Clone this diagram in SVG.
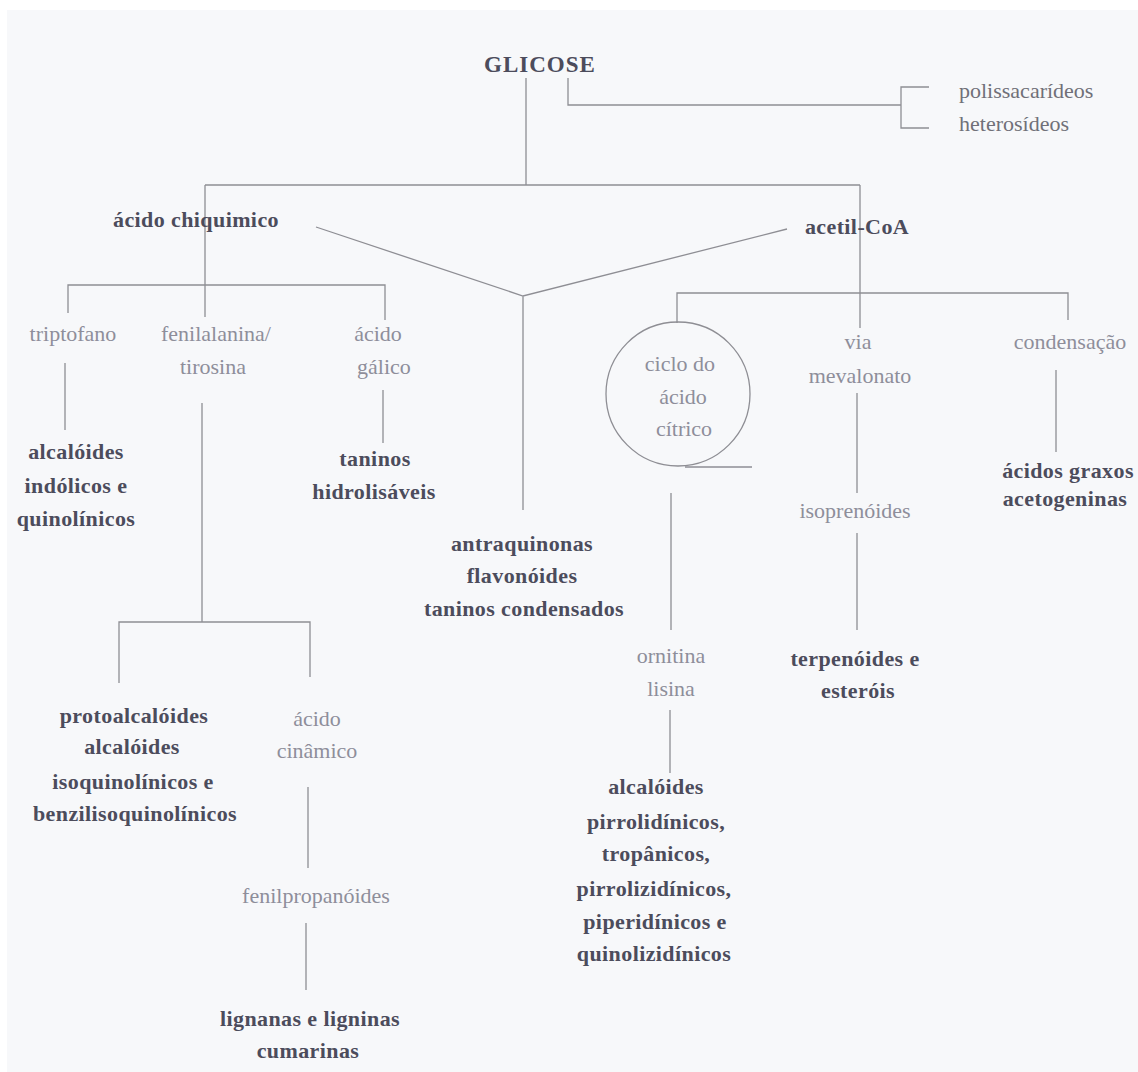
<svg xmlns="http://www.w3.org/2000/svg" width="1138" height="1072" viewBox="0 0 1138 1072">
<style>
.ln{fill:none;stroke:#8e8e94;stroke-width:1.3}
.b{font-family:"Liberation Serif","Times New Roman","DejaVu Serif",serif;font-weight:bold;font-size:22px;letter-spacing:0.4px;fill:#4c4c5c;text-anchor:middle}
.r{font-family:"Liberation Serif","Times New Roman","DejaVu Serif",serif;font-size:22px;fill:#8e8e9a;text-anchor:middle}
.d{font-family:"Liberation Serif","Times New Roman","DejaVu Serif",serif;font-size:22px;fill:#707078}
</style>
<rect x="0" y="0" width="1138" height="1072" fill="#ffffff"/>
<rect x="7" y="10" width="1131" height="1062" fill="#f7f8fa"/>
<g id="connectors">
<path class="ln" d="M526 78 V185 M205 185 H860 M205 185 V317 M860 185 V328"/>
<path class="ln" d="M568 78 V105 H901 M929 87 H901 V128 H929"/>
<path class="ln" d="M316 227 L523 296 L787 229 M523 296 V510"/>
<path class="ln" d="M68 313 V285 H385 V320 M65 363 V430 M383 390 V443"/>
<path class="ln" d="M202 403 V622 M119 683 V622 H310 V677"/>
<path class="ln" d="M677 323 V293 H1068 V320"/>
<path class="ln" d="M685 467 H752"/>
<path class="ln" d="M857 393 V493 M857 533 V630 M1056 370 V452"/>
<path class="ln" d="M671 493 V630 M670 710 V773"/>
<path class="ln" d="M308 787 V868 M306 923 V990"/>
</g>
<g id="glicose"><text class="b" x="540" y="72" style="font-size:23px;letter-spacing:1px">GLICOSE</text></g>
<g id="polissacarideos"><text class="d" x="959" y="98">polissacarídeos</text><text class="d" x="959" y="131">heterosídeos</text></g>
<g id="acido-chiquimico"><text class="b" x="196" y="227">ácido chiquimico</text></g>
<g id="acetil-coa"><text class="b" x="857" y="234">acetil-CoA</text></g>
<g id="triptofano"><text class="r" x="73" y="341">triptofano</text></g>
<g id="fenilalanina"><text class="r" x="216" y="341">fenilalanina/</text><text class="r" x="213" y="374">tirosina</text></g>
<g id="acido-galico"><text class="r" x="378" y="341">ácido</text><text class="r" x="384" y="374">gálico</text></g>
<g id="alcaloides-indolicos"><text class="b" x="76" y="459">alcalóides</text><text class="b" x="76" y="493">indólicos e</text><text class="b" x="76" y="526">quinolínicos</text></g>
<g id="taninos-hidrolisaveis"><text class="b" x="375" y="466">taninos</text><text class="b" x="374" y="499">hidrolisáveis</text></g>
<g id="antraquinonas"><text class="b" x="522" y="551">antraquinonas</text><text class="b" x="522" y="583">flavonóides</text><text class="b" x="524" y="616">taninos condensados</text></g>
<g id="ciclo"><circle cx="678" cy="394" r="72" class="ln"/><text class="r" x="680" y="371">ciclo do</text><text class="r" x="683" y="404">ácido</text><text class="r" x="684" y="436">cítrico</text></g>
<g id="via-mevalonato"><text class="r" x="858" y="349">via</text><text class="r" x="860" y="383">mevalonato</text></g>
<g id="condensacao"><text class="r" x="1070" y="349">condensação</text></g>
<g id="acidos-graxos"><text class="b" x="1068" y="478">ácidos graxos</text><text class="b" x="1065" y="506">acetogeninas</text></g>
<g id="isoprenoides"><text class="r" x="855" y="518">isoprenóides</text></g>
<g id="terpenoides"><text class="b" x="855" y="666">terpenóides e</text><text class="b" x="858" y="698">esteróis</text></g>
<g id="ornitina"><text class="r" x="671" y="663">ornitina</text><text class="r" x="671" y="696">lisina</text></g>
<g id="alcaloides-pirrolidinicos"><text class="b" x="656" y="794">alcalóides</text><text class="b" x="656" y="829">pirrolidínicos,</text><text class="b" x="656" y="861">tropânicos,</text><text class="b" x="654" y="896">pirrolizidínicos,</text><text class="b" x="655" y="929">piperidínicos e</text><text class="b" x="654" y="961">quinolizidínicos</text></g>
<g id="protoalcaloides"><text class="b" x="134" y="723">protoalcalóides</text><text class="b" x="132" y="754">alcalóides</text><text class="b" x="133" y="789">isoquinolínicos e</text><text class="b" x="135" y="821">benzilisoquinolínicos</text></g>
<g id="acido-cinamico"><text class="r" x="317" y="726">ácido</text><text class="r" x="317" y="758">cinâmico</text></g>
<g id="fenilpropanoides"><text class="r" x="316" y="903">fenilpropanóides</text></g>
<g id="lignanas"><text class="b" x="310" y="1026">lignanas e ligninas</text><text class="b" x="308" y="1058">cumarinas</text></g>
</svg>
